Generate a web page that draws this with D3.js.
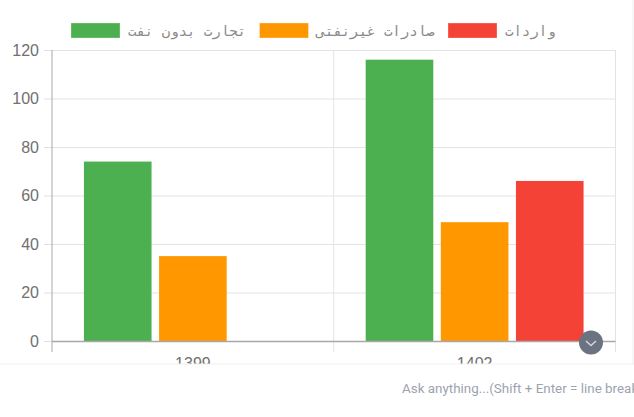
<!DOCTYPE html>
<html><head><meta charset="utf-8">
<script src="https://cdn.jsdelivr.net/npm/d3@7"></script>
<style>html,body{margin:0;padding:0;background:#fff;overflow:hidden}svg{display:block}</style>
</head><body><svg id="c" width="634" height="417"></svg>
<script>
const categories = ["1399", "1402"];
const seriesNames = ["تجارت بدون نفت", "صادرات غیرنفتی", "واردات"];
const seriesColors = ["#4caf50", "#ff9800", "#f44336"];
const tradeNoOil = [74, 116];
const nonOilExports = [35, 49];
const imports = [null, 66];
const yTicks = [0, 20, 40, 60, 80, 100, 120];
const seriesValues = [tradeNoOil, nonOilExports, imports];

const svg = d3.select("#c");
const L = 52, R = 615.5, T = 50, B = 341;
const x0 = d3.scaleBand().domain(categories).range([L, R]);
const cw = x0.bandwidth();
const x1 = d3.scaleBand().domain(seriesNames).range([cw * 0.1, cw * 0.9]).paddingInner(0.1).paddingOuter(0.05);
const y = d3.scaleLinear().domain([0, 120]).range([B, T]);

// grid
const yAxis = d3.axisLeft(y).tickValues(yTicks).tickSize(8).tickPadding(5);
const gy = svg.append("g").attr("transform", `translate(${L},0)`).call(yAxis);
gy.select(".domain").remove();
gy.selectAll("line").attr("stroke", "#e0e0e0");
gy.selectAll("text").attr("fill", "#707070").style("font", "16px 'Liberation Sans'");
svg.append("g").selectAll("line").data(yTicks).join("line")
  .attr("x1", L).attr("x2", R).attr("y1", d => y(d) + .5).attr("y2", d => y(d) + .5)
  .attr("stroke", "#e3e3e3");
svg.append("g").selectAll("line").data([...categories.slice(1), null]).join("line")
  .attr("x1", d => d ? x0(d) : R).attr("x2", d => d ? x0(d) : R)
  .attr("y1", T).attr("y2", 352).attr("stroke", "#e3e3e3");

// bars
categories.forEach((c, i) => {
  svg.append("g").selectAll("rect")
    .data(seriesNames.map((s, k) => ({ s, k, v: seriesValues[k][i] })).filter(d => d.v !== null))
    .join("rect")
    .attr("x", d => x0(c) + x1(d.s)).attr("width", x1.bandwidth())
    .attr("y", d => y(d.v)).attr("height", d => B - y(d.v))
    .attr("fill", d => seriesColors[d.k]);
});

// axes lines
svg.append("line").attr("x1", L).attr("x2", L).attr("y1", T).attr("y2", 352).attr("stroke", "#a8a8a8").attr("stroke-width", 1);
svg.append("line").attr("x1", L).attr("x2", R).attr("y1", B + .5).attr("y2", B + .5).attr("stroke", "#a8a8a8").attr("stroke-width", 1.5);

// x labels
svg.append("g").selectAll("text").data(categories).join("text")
  .attr("x", d => x0(d) + cw / 2).attr("y", 368.5).attr("text-anchor", "middle")
  .attr("fill", "#707070").style("font", "16px 'Liberation Sans'").text(d => d);

// legend
const legendBox = [71, 259.5, 448];
const lg = svg.append("g").selectAll("g").data(seriesNames).join("g")
  .attr("transform", (d, i) => `translate(${legendBox[i]},23)`);
lg.append("rect").attr("width", 49).attr("height", 15).attr("fill", (d, i) => seriesColors[i])
  .attr("stroke", "#fff").attr("stroke-opacity", .3);
lg.append("text").attr("x", 57).attr("y", 13).attr("fill", "#8a8a8a")
  .attr("direction", "ltr").style("font", "14px 'DejaVu Sans Mono', monospace").text(d => d);

// bottom panel covering the chart
svg.append("rect").attr("x", -1).attr("y", 364).attr("width", 636).attr("height", 60).attr("fill", "#fff").attr("stroke", "#f0f0f0");
svg.append("line").attr("x1", 633).attr("x2", 633).attr("y1", 0).attr("y2", 364).attr("stroke", "#f0f0f0");
svg.append("text").attr("x", 402).attr("y", 393).attr("fill", "#9ca3af")
  .style("font", "13.4px Roboto").text("Ask anything...(Shift + Enter = line break)");

// scroll button
svg.append("circle").attr("cx", 591).attr("cy", 342.5).attr("r", 12).attr("fill", "#6b7280");
svg.append("path").attr("d", "M586 341l5 4.5l5-4.5").attr("fill", "none").attr("stroke", "#d1d5db").attr("stroke-width", 1.6);
</script></body></html>
